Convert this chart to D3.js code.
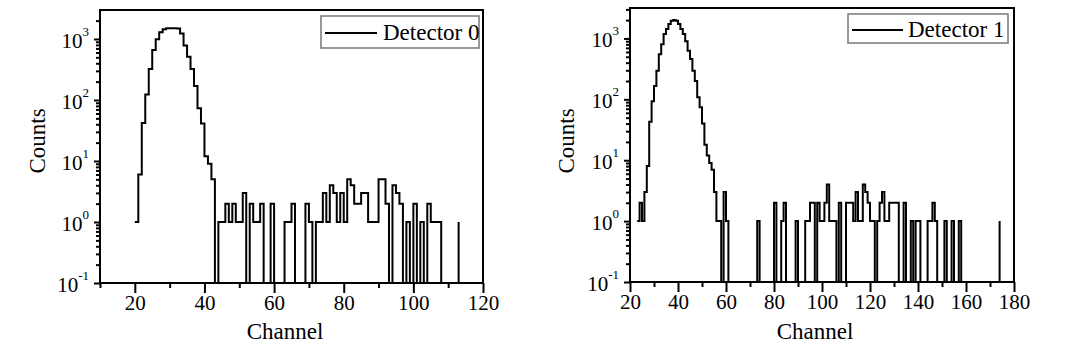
<!DOCTYPE html>
<html>
<head>
<meta charset="utf-8">
<script src="https://cdn.jsdelivr.net/npm/d3@7"></script>
<style>
  body { margin: 0; background: #fff; }
</style>
</head>
<body>
<div id="chart"></div>
<script>
// counts per channel, detector 0 starts at channel 20
const det0Start = 20;
const det0Counts = [
  1, 6, 42, 123, 322, 660, 990, 1290, 1450, 1500, 1500, 1500, 1480, 1230, 780, 510, 322, 170, 73, 41, 12, 9, 5, 0,
  1, 1, 2, 1, 2, 1, 1, 3, 0, 2, 1, 1, 2, 0, 0, 2, 0, 0, 0, 1, 1, 2, 0, 0, 0, 2, 1, 0, 1, 1,
  3, 1, 4, 3, 1, 3, 1, 5, 4, 2, 2, 3, 3, 1, 1, 1, 5, 5, 2, 0, 4, 3, 2, 0, 1, 0,
  2, 0, 1, 0, 2, 1, 1, 1, 0, 0, 0, 0, 0, 1
];
// detector 1 starts at channel 23
const det1Start = 23;
const det1Counts = [
  1, 2, 1, 3, 8, 43, 93, 165, 296, 550, 800, 1180, 1430, 1720, 1950, 2000, 1950, 1730, 1430, 1180,
  900, 630, 460, 296, 200, 108, 74, 40, 18, 12, 9, 7, 3, 1, 1, 0, 3, 1,
  0, 0, 0, 0, 0, 0, 0, 0, 0, 0, 0, 0,
  1, 0, 0, 0, 0, 0, 0, 2, 0, 0, 1, 2, 0, 0, 0, 0, 1, 0, 0, 0,
  1, 1, 2, 2, 0, 2, 1, 1, 2, 4, 1, 1, 1, 0, 2, 0, 0, 2, 2, 2, 1, 3, 1, 1, 4, 3, 2, 1, 1, 0,
  1, 2, 3, 1, 1, 2, 2, 2, 2, 0, 0, 2, 0, 0, 1, 0, 1, 1, 0, 0, 0,
  1, 1, 2, 1, 0, 0, 0, 1, 0, 0, 1, 0, 0, 1,
  0, 0, 0, 0, 0, 0, 0, 0, 0, 0, 0, 0, 0, 0, 0, 0, 1
];
const legendLabels = ["Detector 0", "Detector 1"];
const xTicks0 = [20, 40, 60, 80, 100, 120];
const xTicks1 = [20, 40, 60, 80, 100, 120, 140, 160, 180];
const yExponents = [-1, 0, 1, 2, 3];

const W = 1075, H = 351;
const FONT = "'Liberation Serif', 'Times New Roman', 'DejaVu Serif', serif";
const svg = d3.select("#chart").append("svg")
  .attr("width", W).attr("height", H)
  .style("font-family", FONT);

const panels = [
  { start: det0Start, counts: det0Counts, label: legendLabels[0], ticks: xTicks0,
    left: 100, right: 483, top: 10, bottom: 283, xDom: [10, 120], yTop: 3.475,
    legend: { x: 321, y: 16, w: 158, h: 32, lx1: 325, lx2: 377, ly: 33, tx: 383, ty: 40 },
    countsX: 37, channelX: 285 },
  { start: det1Start, counts: det1Counts, label: legendLabels[1], ticks: xTicks1,
    left: 630, right: 1014, top: 8, bottom: 282, xDom: [20, 180], yTop: 3.5,
    legend: { x: 848, y: 14, w: 160, h: 29, lx1: 852, lx2: 903, ly: 30, tx: 908, ty: 37 },
    countsX: 566, channelX: 815 }
];

panels.forEach(function (p) {
  const x = d3.scaleLinear().domain(p.xDom).range([p.left, p.right]);
  const y = d3.scaleLog().domain([0.1, Math.pow(10, p.yTop)]).range([p.bottom, p.top]);
  const g = svg.append("g");

  // x ticks: minor every 10, major every 20 with labels
  const minorX = d3.range(p.xDom[0], p.xDom[1] + 1, 10).filter(function (v) { return p.ticks.indexOf(v) < 0; });
  const ax1 = g.append("g").attr("transform", "translate(0," + p.bottom + ")")
    .call(d3.axisBottom(x).tickValues(minorX).tickSize(5).tickFormat(""));
  const ax2 = g.append("g").attr("transform", "translate(0," + p.bottom + ")")
    .call(d3.axisBottom(x).tickValues(p.ticks).tickSize(10).tickPadding(2).tickFormat(d3.format("d")));

  // y ticks: log decades with minor ticks 2..9
  const minorY = [];
  yExponents.forEach(function (e) {
    for (let k = 2; k <= 9; k++) {
      const v = k * Math.pow(10, e);
      if (Math.log10(v) <= p.yTop) minorY.push(v);
    }
  });
  const majorY = yExponents.map(function (e) { return Math.pow(10, e); });
  const ay1 = g.append("g").attr("transform", "translate(" + p.left + ",0)")
    .call(d3.axisLeft(y).tickValues(minorY).tickSize(4).tickFormat(""));
  const ay2 = g.append("g").attr("transform", "translate(" + p.left + ",0)")
    .call(d3.axisLeft(y).tickValues(majorY).tickSize(6).tickFormat(""));

  [ax1, ax2, ay1, ay2].forEach(function (a) {
    a.select(".domain").remove();
    a.selectAll("line").attr("stroke", "#000").attr("stroke-width", 2);
    a.attr("font-family", FONT).attr("font-size", 21);
  });
  ax2.selectAll("text").attr("fill", "#000");

  // y labels 10^e
  const yl = g.selectAll(".ylab").data(yExponents).enter().append("text")
    .attr("class", "ylab")
    .attr("font-family", FONT)
    .attr("x", p.left - 11)
    .attr("y", function (e) { return y(Math.pow(10, e)) + 9; })
    .attr("text-anchor", "end");
  yl.append("tspan").attr("font-size", 21).text("10");
  yl.append("tspan").attr("font-size", 13).attr("dy", -12).text(function (e) { return e; });

  // frame
  g.append("rect")
    .attr("x", p.left).attr("y", p.top)
    .attr("width", p.right - p.left).attr("height", p.bottom - p.top)
    .attr("fill", "none").attr("stroke", "#000").attr("stroke-width", 2);

  // histogram
  const pts = p.counts.map(function (c, i) { return [p.start + i, c]; });
  const line = d3.line()
    .x(function (d) { return x(d[0]); })
    .y(function (d) { return y(Math.max(d[1], 0.1)); })
    .curve(d3.curveStepAfter);
  g.append("path").datum(pts)
    .attr("d", line)
    .attr("fill", "none").attr("stroke", "#000").attr("stroke-width", 2);

  // legend
  const L = p.legend;
  g.append("rect").attr("x", L.x).attr("y", L.y).attr("width", L.w).attr("height", L.h)
    .attr("fill", "#fff").attr("stroke", "#777").attr("stroke-width", 1.5);
  g.append("line").attr("x1", L.lx1).attr("x2", L.lx2).attr("y1", L.ly).attr("y2", L.ly)
    .attr("stroke", "#000").attr("stroke-width", 2);
  g.append("text").attr("font-family", FONT).attr("x", L.tx).attr("y", L.ty)
    .attr("font-size", 23).text(p.label);

  // axis titles
  g.append("text").attr("font-family", FONT)
    .attr("transform", "translate(" + (p.countsX + 8) + "," + 141 + ") rotate(-90)")
    .attr("text-anchor", "middle").attr("font-size", 23).text("Counts");
  g.append("text").attr("font-family", FONT)
    .attr("x", p.channelX).attr("y", 339)
    .attr("text-anchor", "middle").attr("font-size", 23).text("Channel");
});
</script>
</body>
</html>
